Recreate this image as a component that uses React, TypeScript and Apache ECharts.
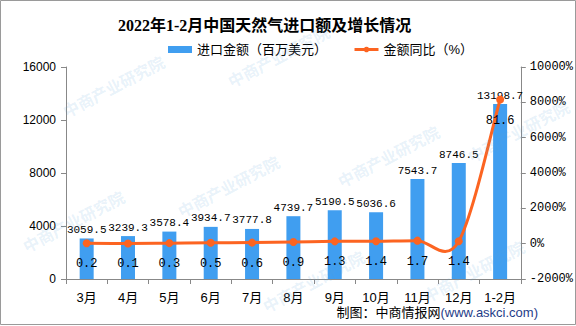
import React, { useEffect, useRef } from "react";
import * as echarts from "echarts";

const categories = ["3月", "4月", "5月", "6月", "7月", "8月", "9月", "10月", "11月", "12月", "1-2月"];
const importValues = [3059.5, 3239.3, 3578.4, 3934.7, 3777.8, 4739.7, 5190.5, 5036.6, 7543.7, 8746.5, 13198.7];
const growthLabels = [0.2, 0.1, 0.3, 0.5, 0.6, 0.9, 1.3, 1.4, 1.7, 1.4, 81.6];
const growthPercent = [20, 10, 30, 50, 60, 90, 130, 140, 170, 140, 8160];
const leftTicks = { min: 0, max: 16000, interval: 4000 };
const rightTicks = { min: -2000, max: 10000, interval: 2000 };

const watermarkSpots = [
  [60, 105], [225, 75], [20, 240], [175, 205], [335, 175], [465, 150],
  [260, 300], [420, 290],
];

export default function App() {
  const ref = useRef<HTMLDivElement>(null);
  useEffect(() => {
    if (!ref.current) return;
    const chart = echarts.init(ref.current, null, { renderer: "svg" });
    const numFont = "'Liberation Mono', 'DejaVu Sans Mono', monospace";
    const cjk = "'Liberation Sans', 'Noto Sans CJK SC', sans-serif";
    const lineColor = "#fc6421";
    chart.setOption({
      animation: false,
      backgroundColor: "#ffffff",
      title: {
        text: "2022年1-2月中国天然气进口额及增长情况",
        left: 113,
        top: 12,
        textStyle: {
          fontSize: 16,
          fontWeight: "bold",
          color: "#000",
          fontFamily: "'Liberation Serif', 'Noto Sans CJK SC', serif",
        },
      },
      legend: {
        top: 38,
        left: 163,
        itemGap: 26,
        itemWidth: 24,
        itemHeight: 7,
        textStyle: { fontSize: 13, color: "#000", fontFamily: cjk },
        data: [
          { name: "进口金额（百万美元）", icon: "rect" },
          {
            name: "金额同比（%）",
            lineStyle: { color: lineColor, width: 3, opacity: 1 },
            itemStyle: { color: lineColor, opacity: 1 },
          },
        ],
      },
      grid: { left: 66, right: 53, top: 67, bottom: 47, containLabel: false },
      xAxis: {
        type: "category",
        data: categories,
        axisLine: { lineStyle: { color: "#888", width: 1 } },
        axisTick: { show: true, alignWithLabel: false, length: 5, lineStyle: { color: "#888" } },
        axisLabel: { color: "#000", fontSize: 13, margin: 12, fontFamily: cjk },
      },
      yAxis: [
        {
          type: "value",
          min: leftTicks.min,
          max: leftTicks.max,
          interval: leftTicks.interval,
          splitLine: { show: false },
          axisLine: { show: true, lineStyle: { color: "#888" } },
          axisTick: { show: true, length: 5, lineStyle: { color: "#888" } },
          axisLabel: {
            color: "#000",
            fontSize: 12,
            margin: 10,
            fontFamily: cjk,
            formatter: (v: number) => String(v),
          },
        },
        {
          type: "value",
          min: rightTicks.min,
          max: rightTicks.max,
          interval: rightTicks.interval,
          position: "right",
          splitLine: { show: false },
          axisLine: { show: true, lineStyle: { color: "#888" } },
          axisTick: { show: true, length: 5, lineStyle: { color: "#888" } },
          axisLabel: {
            color: "#000",
            fontSize: 12,
            margin: 9,
            fontFamily: numFont,
            formatter: (v: number) => v + "%",
          },
        },
      ],
      series: [
        {
          name: "进口金额（百万美元）",
          type: "bar",
          data: importValues,
          barWidth: 14,
          itemStyle: { color: "#409ef0" },
          label: {
            show: true,
            position: "top",
            distance: 3,
            color: "#000",
            fontSize: 11,
            fontFamily: numFont,
            formatter: (p: any) => p.value.toFixed(1),
          },
        },
        {
          name: "curve",
          type: "custom",
          yAxisIndex: 1,
          data: growthPercent.map((v, i) => [i, v]),
          z: 4,
          silent: true,
          renderItem: (params: any, api: any) => {
            if (params.dataIndex !== 0) return null;
            const pts = growthPercent.map((v, i) => api.coord([i, v]));
            const children: any[] = [];
            for (let i = 0; i < pts.length - 1; i++) {
              const p0 = pts[i - 1] || pts[i];
              const p1 = pts[i];
              const p2 = pts[i + 1];
              const p3 = pts[i + 2] || pts[i + 1];
              children.push({
                type: "bezierCurve",
                shape: {
                  x1: p1[0],
                  y1: p1[1],
                  cpx1: p1[0] + (p2[0] - p0[0]) / 6,
                  cpy1: p1[1] + (p2[1] - p0[1]) / 6,
                  cpx2: p2[0] - (p3[0] - p1[0]) / 6,
                  cpy2: p2[1] - (p3[1] - p1[1]) / 6,
                  x2: p2[0],
                  y2: p2[1],
                },
                style: { stroke: lineColor, lineWidth: 3, fill: null },
              });
            }
            return { type: "group", children };
          },
        },
        {
          name: "金额同比（%）",
          type: "line",
          yAxisIndex: 1,
          data: growthPercent,
          symbol: "circle",
          symbolSize: 8,
          lineStyle: { color: lineColor, width: 3, opacity: 0 },
          itemStyle: { color: lineColor },
          label: {
            show: true,
            position: "bottom",
            distance: 11,
            color: "#000",
            fontSize: 12,
            fontFamily: numFont,
            formatter: (p: any) => growthLabels[p.dataIndex].toFixed(1),
          },
          z: 5,
        },
      ],
      graphic: [
        ...watermarkSpots.map(([x, y]) => ({
          type: "text",
          x,
          y,
          rotation: Math.PI / 6.5,
          silent: true,
          z: 100,
          style: {
            text: "中商产业研究院",
            fill: "rgba(90,160,215,0.15)",
            font: "bold 16px 'Noto Sans CJK SC', sans-serif",
          },
        })),
        {
          type: "text",
          right: 38,
          top: 306,
          style: {
            text: "{a|制图：中商情报网}{b|(www.askci.com)}",
            rich: {
              a: { fontSize: 13, fill: "#000", fontFamily: cjk },
              b: { fontSize: 13, fill: "#1f3c88", fontFamily: "'Liberation Sans', sans-serif" },
            },
          },
        },
        {
          type: "rect",
          shape: { x: 0.5, y: 0.5, width: 575, height: 324 },
          style: { fill: "none", stroke: "#9a9a9a", lineWidth: 1 },
          silent: true,
        },
      ],
    });
    return () => chart.dispose();
  }, []);
  return (
    <div
      ref={ref}
      style={{ position: "fixed", left: 0, top: 0, width: 576, height: 326 }}
    />
  );
}
